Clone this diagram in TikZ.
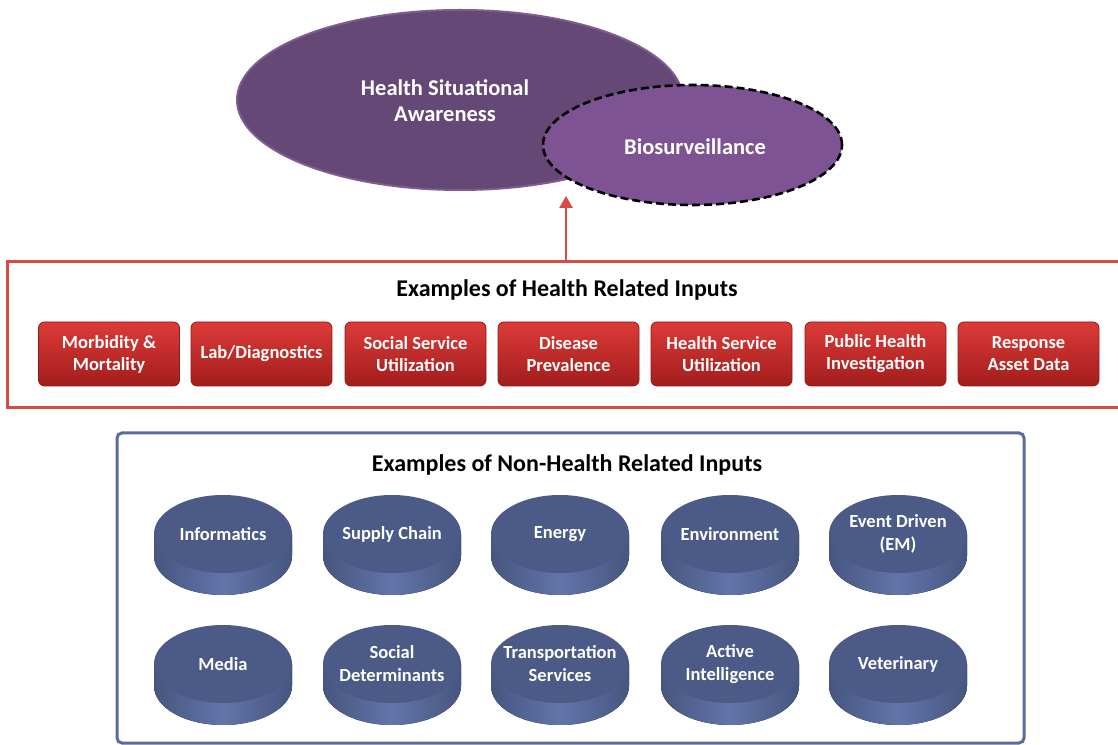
\documentclass[tikz,border=0pt]{standalone}
\usepackage{fontspec}
\setmainfont{Carlito}
\usetikzlibrary{shapes.geometric,arrows.meta}

\definecolor{hsapurple}{HTML}{654876}
\definecolor{hsaedge}{HTML}{7E5B93}
\definecolor{biopurple}{HTML}{7D5393}
\definecolor{framered}{HTML}{DA4A45}
\definecolor{boxtop}{HTML}{DC3B37}
\definecolor{boxbottom}{HTML}{A21D1D}
\definecolor{boxedge}{HTML}{8E1B1B}
\definecolor{frameblue}{HTML}{5A6B9C}
\definecolor{disctop}{HTML}{4B5A86}
\definecolor{discdark}{HTML}{46567F}
\definecolor{disclight}{HTML}{6275AA}

\tikzset{
  hsa/.style={ellipse,fill=hsapurple,draw=hsaedge,line width=2pt,inner sep=0pt,
    minimum width=446,minimum height=180},
  bio/.style={ellipse,fill=biopurple,draw=black,line width=2.6pt,dash pattern=on 8pt off 4pt,
    inner sep=0pt,minimum width=299,minimum height=120},
  bigtext/.style={font=\fontsize{22.5}{26}\selectfont\bfseries,text=white,align=center},
  heading/.style={font=\fontsize{24}{28}\selectfont\bfseries,text=black},
  healthframe/.style={draw=framered,line width=3pt,minimum width=1118,minimum height=146,inner sep=0pt},
  otherframe/.style={draw=frameblue,line width=3pt,rounded corners=5pt,minimum width=907,minimum height=310,inner sep=0pt},
  healthbox/.style={rounded corners=6pt,draw=boxedge,line width=0.8pt,top color=boxtop,bottom color=boxbottom,
    minimum width=141,minimum height=64,inner sep=0pt,align=center,text=white,
    font=\fontsize{18.5}{22}\selectfont\bfseries},
  discface/.style={ellipse,fill=disctop,minimum width=138,minimum height=78,inner sep=0pt},
  disctext/.style={align=center,text=white,font=\fontsize{18.5}{23}\selectfont\bfseries},
  discside/.style={left color=discdark,right color=discdark,middle color=disclight}
}

\begin{document}
\begin{tikzpicture}[x=1pt,y=1pt]
\useasboundingbox (0,0) rectangle (1118,744);

% awareness and biosurveillance
\node [hsa] (hsa) at (460,644) {};
\node [bigtext] (hsatext) at (445,643) {Health Situational\\Awareness};
\node [bio] (bio) at (692.5,599) {};
\node [bigtext] (biotext) at (695,597) {Biosurveillance};

% health related inputs
\node [healthframe] (hframe) at (566,409) {};
\node [heading] (htitle) at (567,454) {Examples of Health Related Inputs};
\coordinate (target) at (566,548);
\draw [framered,line width=2.6pt,-{Triangle[length=12pt,width=13pt]}] (hframe.north) -- (target);

\foreach \nm/\x/\txt in {mm/109/{Morbidity \&\\Mortality},lab/261.5/{Lab/Diagnostics},
    ssu/415.5/{Social Service\\Utilization},dp/568.5/{Disease\\Prevalence},
    hsu/721.5/{Health Service\\Utilization},phi/875.5/{Public Health\\Investigation},
    rad/1028.5/{Response\\Asset Data}}
  \node [healthbox] (\nm) at (\x,390) {\txt};

% non-health related inputs
\node [otherframe] (oframe) at (570.5,156) {};
\node [heading] (otitle) at (567,279) {Examples of Non-Health Related Inputs};

\foreach \nm/\x/\y/\txt in {inf/223/210/{Informatics},sup/392/210/{Supply Chain},
    nrg/560/210/{Energy},env/730/210/{Environment},evt/898/210/{Event Driven\\(EM)},
    med/223/80/{Media},sdt/392/80/{Social\\Determinants},trs/560/80/{Transportation\\Services},
    act/730/80/{Active\\Intelligence},vet/898/80/{Veterinary}}
{
  \fill [discside] (\x-69,\y) -- (\x-69,\y-22) arc [start angle=180,end angle=360,x radius=69,y radius=39]
    -- (\x+69,\y) -- cycle;
  \node [discface] (\nm) at (\x,\y) {};
  \node [disctext] (\nm-t) at (\nm) {\txt};
}
\end{tikzpicture}
\end{document}
